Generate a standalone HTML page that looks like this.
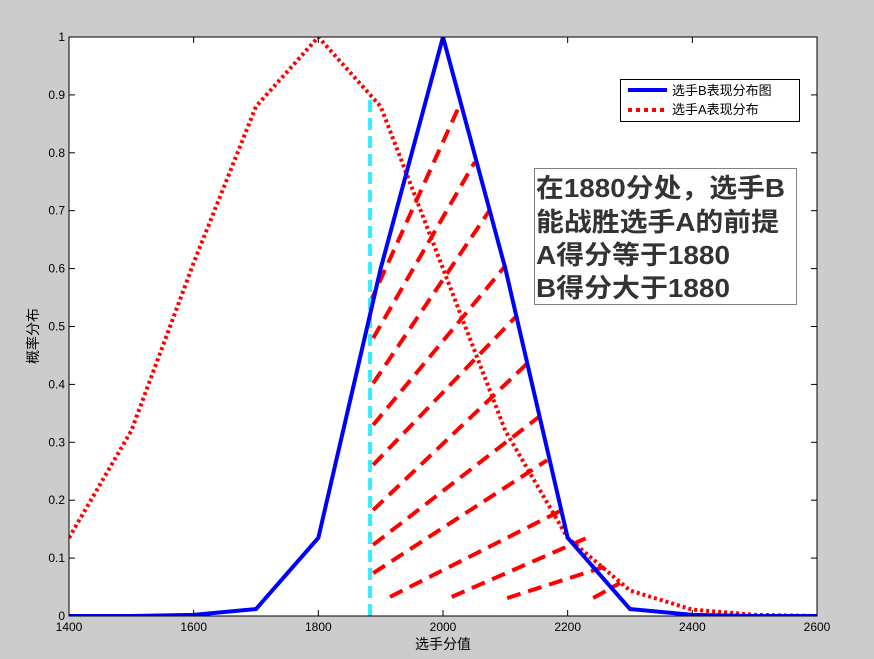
<!DOCTYPE html>
<html><head><meta charset="utf-8"><style>
body{margin:0;background:#cccccc;width:874px;height:659px;overflow:hidden}
svg{display:block;font-family:"Liberation Sans","Noto Sans CJK SC",sans-serif}
</style></head><body>
<svg id="chart" width="874" height="659" viewBox="0 0 874 659"></svg>
<script>
const xTicks=[1400,1600,1800,2000,2200,2400,2600];
const yTicks=[0,0.1,0.2,0.3,0.4,0.5,0.6,0.7,0.8,0.9,1];
const yTickLabels=["0","0.1","0.2","0.3","0.4","0.5","0.6","0.7","0.8","0.9","1"];
const xs=[1400,1500,1600,1700,1800,1900,2000,2100,2200,2300,2400,2500,2600];
const seriesB=[0,0,0.002,0.012,0.135,0.6,1,0.6,0.135,0.012,0.002,0,0];
const seriesA=[0.135,0.32,0.61,0.88,1,0.88,0.6,0.32,0.135,0.044,0.011,0.002,0];
const cutX=1883, cutTop=0.9;
const hatchX1=[1883,1888,1888,1888,1888,1888,1888,1888,1915,2014,2103,2241];
const hatchY1=[0.541,0.48,0.402,0.33,0.261,0.183,0.123,0.074,0.033,0.033,0.031,0.031];
const hatchX2=[2027,2051,2075,2101,2116,2136,2154,2167,2191,2231,2268,2284];
const hatchY2=[0.883,0.784,0.701,0.606,0.516,0.437,0.344,0.269,0.183,0.135,0.088,0.057];
const L=69,R=817,T=37,B=616;
const sx=v=>L+(v-1400)/1200*(R-L);
const sy=v=>B-v*(B-T);
const svg=document.getElementById('chart');
const NS='http://www.w3.org/2000/svg';
function mk(tag,attrs,parent){const e=document.createElementNS(NS,tag);for(const k in attrs)e.setAttribute(k,attrs[k]);(parent||svg).appendChild(e);return e;}
const bg=mk('rect',{x:L,y:T,width:R-L,height:B-T,fill:'#fff'});


const clip=mk('clipPath',{id:'cp'});mk('rect',{x:L,y:T,width:R-L,height:B-T},clip);
const g=mk('g',{'clip-path':'url(#cp)'});


for(let i=0;i<hatchX1.length;i++){
 const h=mk('line',{x1:sx(hatchX1[i]),y1:sy(hatchY1[i]),x2:sx(hatchX2[i]),y2:sy(hatchY2[i]),stroke:'#ff0000','stroke-width':4,'stroke-dasharray':'14 8'},g);
 
 
}
const cut=mk('line',{x1:sx(cutX),y1:sy(0),x2:sx(cutX),y2:sy(cutTop),stroke:'#33eeff','stroke-width':4,'stroke-dasharray':'12 6'},g);


const pa=mk('polyline',{points:xs.map((x,i)=>sx(x)+','+sy(seriesA[i])).join(' '),fill:'none',stroke:'#ff0000','stroke-width':4,'stroke-dasharray':'3 3'},g);


const pb=mk('polyline',{points:xs.map((x,i)=>sx(x)+','+sy(seriesB[i])).join(' '),fill:'none',stroke:'#0000ff','stroke-width':4,'stroke-linejoin':'miter'},g);


const frame=mk('rect',{x:L,y:T,width:R-L,height:B-T,fill:'none',stroke:'#000','stroke-width':1});


xTicks.forEach(v=>{
 const x=sx(v);
 mk('line',{x1:x,y1:B,x2:x,y2:B-6,stroke:'#000'});mk('line',{x1:x,y1:T,x2:x,y2:T+6,stroke:'#000'});
 const t=mk('text',{x:x,y:B+15,'font-size':12,'text-anchor':'middle',fill:'#000'});t.textContent=v;
 
 
});
yTicks.forEach((v,i)=>{
 const y=sy(v);
 mk('line',{x1:L,y1:y,x2:L+6,y2:y,stroke:'#000'});mk('line',{x1:R,y1:y,x2:R-6,y2:y,stroke:'#000'});
 const t=mk('text',{x:L-4,y:y+4,'font-size':12,'text-anchor':'end',fill:'#000'});t.textContent=yTickLabels[i];
 
 
});
</script>
<svg style="position:absolute;left:0;top:0" width="874" height="659">
<text x="443" y="649" font-size="14" text-anchor="middle" font-family="Liberation Sans,Noto Sans CJK SC,sans-serif">选手分值</text>
<text transform="translate(38,336) rotate(-90)" font-size="14" text-anchor="middle" font-family="Liberation Sans,Noto Sans CJK SC,sans-serif">概率分布</text>
<g>
<rect x="620.5" y="79.5" width="179" height="42" fill="#fff" stroke="#000"/>
<line x1="628" y1="90" x2="667" y2="90" stroke="#0000ff" stroke-width="4"/>
<line x1="628" y1="110" x2="667" y2="110" stroke="#ff0000" stroke-width="4" stroke-dasharray="4 4"/>
<text x="672" y="95" font-size="13" font-family="Liberation Sans,Noto Sans CJK SC,sans-serif">选手B表现分布图</text>
<text x="672" y="114" font-size="13" font-family="Liberation Sans,Noto Sans CJK SC,sans-serif">选手A表现分布</text>
</g>
<g>
<rect x="534.5" y="168.5" width="262" height="136" fill="#fff" stroke="#808080"/>
<g font-size="26" font-weight="bold" fill="#333" font-family="Liberation Sans,Noto Sans CJK SC,sans-serif">
<text x="536" y="197" textLength="249" lengthAdjust="spacingAndGlyphs">在1880分处，选手B</text>
<text x="536" y="231" textLength="243" lengthAdjust="spacingAndGlyphs">能战胜选手A的前提</text>
<text x="536" y="264" textLength="194" lengthAdjust="spacingAndGlyphs">A得分等于1880</text>
<text x="536" y="297" textLength="194" lengthAdjust="spacingAndGlyphs">B得分大于1880</text>
</g></g>
</svg>
</body></html>
